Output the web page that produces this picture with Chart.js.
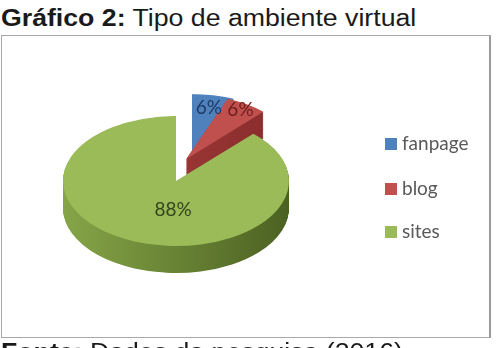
<!DOCTYPE html>
<html>
<head>
<meta charset="utf-8">
<script src="https://cdn.jsdelivr.net/npm/chart.js@4/dist/chart.umd.min.js"></script>
<style>
html,body{margin:0;padding:0;width:497px;height:348px;overflow:hidden;background:#fff;}
.t{position:absolute;left:1px;font-family:"Liberation Sans",Arial,sans-serif;font-size:23px;line-height:23px;color:#1a1a1a;white-space:nowrap;transform-origin:0 0;transform:scaleX(1.16);}
#title{top:7px}
#foot{top:341px}
#box{position:absolute;left:1px;top:35px;width:487px;height:301px;border:1px solid #a8a8a8;border-right:2px solid #9a9a9a;}
#c{position:absolute;left:0;top:0;}
</style>
</head>
<body>
<div id="title" class="t"><b>Gráfico 2:</b> Tipo de ambiente virtual</div>
<div id="box"></div>
<canvas id="c" width="497" height="348"></canvas>
<div id="foot" class="t"><b>Fonte:</b> Dados da pesquisa (2016)</div>
<script>
// ---- data ----
const categories = ['fanpage', 'blog', 'sites'];
const values = [6, 6, 88];
const percentLabels = ['6%', '6%', '88%'];

// ---- styles ----
const topColors = ['#4f81bd', '#c0504d', '#9bbb59'];
const sideLight = ['#4a78b0', '#a8403d', '#86a547'];
const sideDark = ['#345d92', '#84292a', '#4b6122'];
const labelColors = ['#1f3a63', '#6e1f1d', '#34441a'];
const SQUASH = 0.575;
const DEPTH = 47;
const EXPLODE = [[16, -38], [10, -38], [0, 0]];
const LABEL_FRAC = [0.8, 0.9, 0.48];
const LABEL_NUDGE = [[0, 0], [0, 0], [17, 0]];
const LEGEND = {x: 385, box: 12, ys: [144, 189, 232], textX: 402};

function withColor(arc, color) {
  const fake = Object.create(arc);
  fake.options = Object.assign({}, arc.options, {backgroundColor: color, borderWidth: 0});
  return fake;
}

const pie3d = {
  id: 'pie3d',
  beforeDatasetsDraw(chart) {
    const ctx = chart.ctx;
    const arcs = chart.getDatasetMeta(0).data;
    const cx = arcs[0].x, cy = arcs[0].y;
    const r = arcs[0].outerRadius;
    ctx.save();
    ctx.translate(cx, cy); ctx.scale(1, SQUASH); ctx.translate(-cx, -cy);
    arcs.forEach((arc, i) => {
      const [dx, dy] = EXPLODE[i];
      const sg = ctx.createLinearGradient(cx + dx - r, 0, cx + dx + r, 0);
      sg.addColorStop(0, sideLight[i]);
      sg.addColorStop(1, sideDark[i]);
      const side = withColor(arc, sg);
      for (let d = DEPTH; d > 0; d--) {
        ctx.save(); ctx.translate(dx, dy + d); side.draw(ctx); ctx.restore();
      }
      const top = withColor(arc, topColors[i]);
      ctx.save(); ctx.translate(dx, dy); top.draw(ctx); ctx.restore();
    });
    ctx.restore();

    // labels
    ctx.save();
    ctx.font = '19px Lato, "Open Sans", sans-serif';
    ctx.textAlign = 'center';
    ctx.textBaseline = 'middle';
    arcs.forEach((arc, i) => {
      const mid = (arc.startAngle + arc.endAngle) / 2;
      const ux = EXPLODE[i][0] + Math.cos(mid) * r * LABEL_FRAC[i];
      const uy = EXPLODE[i][1] + Math.sin(mid) * r * LABEL_FRAC[i];
      ctx.fillStyle = labelColors[i];
      ctx.fillText(percentLabels[i], cx + ux + LABEL_NUDGE[i][0], cy + uy * SQUASH + LABEL_NUDGE[i][1]);
    });
    ctx.restore();
    return false;
  },
  afterDraw(chart) {
    const ctx = chart.ctx;
    ctx.save();
    ctx.font = '19px Lato, "Open Sans", sans-serif';
    ctx.textBaseline = 'middle';
    categories.forEach((c, i) => {
      const y = LEGEND.ys[i];
      ctx.fillStyle = topColors[i];
      ctx.fillRect(LEGEND.x, y - LEGEND.box / 2, LEGEND.box, LEGEND.box);
      ctx.fillStyle = '#595959';
      ctx.fillText(c, LEGEND.textX, y);
    });
    ctx.restore();
  }
};

new Chart(document.getElementById('c'), {
  type: 'pie',
  data: {
    labels: categories,
    datasets: [{data: values, backgroundColor: topColors, borderWidth: 0}]
  },
  options: {
    responsive: false,
    animation: false,
    radius: 113,
    rotation: 0,
    layout: {padding: {left: 40, right: 185, top: 45, bottom: 31}},
    plugins: {legend: {display: false}, tooltip: {enabled: false}}
  },
  plugins: [pie3d]
});
</script>
</body>
</html>
